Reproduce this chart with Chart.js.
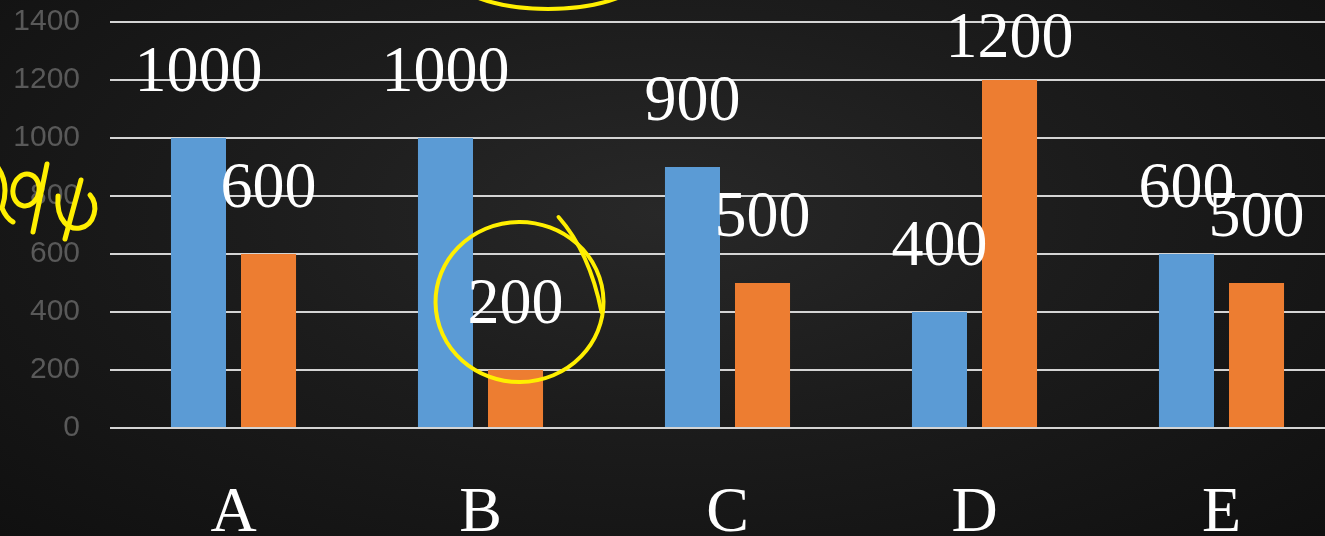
<!DOCTYPE html>
<html lang="fr">
<head>
<meta charset="utf-8">
<title>Histogramme A-E</title>
<script src="https://cdn.jsdelivr.net/npm/chart.js@4.4.1/dist/chart.umd.min.js"></script>
<style>
    html, body {
        margin: 0;
        padding: 0;
        width: 1325px;
        height: 536px;
        overflow: hidden;
        background: radial-gradient(ellipse at 50% 40%, #282828 0%, #1c1c1c 45%, #101010 100%);
    }
    #chart-wrapper {
        position: absolute;
        left: 0;
        top: 0;
    }
</style>
</head>
<body>
<div id="chart-wrapper">
    <canvas id="bar-chart" width="1345" height="536"></canvas>
</div>
<script>
// Données du graphique
const categories = ['A', 'B', 'C', 'D', 'E'];
const serieBleue = [1000, 1000, 900, 400, 600];
const serieOrange = [600, 200, 500, 1200, 500];
const yMax = 1400;
const yStep = 200;

// Couleurs façon Office
const COULEUR_BLEUE = '#5B9BD5';
const COULEUR_ORANGE = '#ED7D31';
const COULEUR_FEUTRE = '#FFEF00';
const COULEUR_GRILLE = '#d4d4d4';

/**
 * Affiche la valeur au-dessus de chaque barre (police serif, blanche)
 */
const valueLabelsPlugin = {
    id: 'valueLabels',
    afterDatasetsDraw(chart) {
        const ctx = chart.ctx;
        ctx.save();
        ctx.fillStyle = '#ffffff';
        ctx.font = '66px "Liberation Serif", "Times New Roman", serif';
        ctx.textAlign = 'center';
        ctx.textBaseline = 'alphabetic';

        chart.data.datasets.forEach((dataset, i) => {
            const meta = chart.getDatasetMeta(i);
            meta.data.forEach((bar, j) => {
                // Le libellé reste dans le cadre en haut (cas du 1200)
                const baseline = Math.max(bar.y - 47, 57);
                ctx.save();
                ctx.translate(bar.x, baseline);
                ctx.scale(0.97, 1);
                ctx.fillText(String(dataset.data[j]), 0, 0);
                ctx.restore();
            });
        });
        ctx.restore();
    }
};

/**
 * Annotations au feutre jaune (cercle autour du 200, arc en haut, "2φφ" à gauche)
 */
const feutrePlugin = {
    id: 'feutre',
    afterDraw(chart) {
        const ctx = chart.ctx;
        ctx.save();
        ctx.strokeStyle = COULEUR_FEUTRE;
        ctx.lineWidth = 4;
        ctx.lineCap = 'round';
        ctx.lineJoin = 'round';

        // Cercle autour de l'étiquette de B (série orange)
        const barB = chart.getDatasetMeta(1).data[1];
        const cx = barB.x + 4;
        const cy = Math.max(barB.y - 68, 35);
        ctx.beginPath();
        ctx.ellipse(cx, cy, 84, 80, 0, -1.2, -1.2 + Math.PI * 2 + 0.15);
        ctx.stroke();
        // petite queue du trait en haut à droite
        ctx.beginPath();
        ctx.moveTo(cx + 39, cy - 85);
        ctx.quadraticCurveTo(cx + 70, cy - 50, cx + 82, cy + 10);
        ctx.stroke();

        // Arc en haut, coupé par le bord
        ctx.beginPath();
        ctx.ellipse(548, -40, 110, 49, 0, 0, Math.PI);
        ctx.stroke();

        // "2φφ" écrit à la main à gauche
        ctx.lineWidth = 5;
        ctx.beginPath();
        ctx.moveTo(-3, 166);
        ctx.quadraticCurveTo(10, 184, 2, 208);
        ctx.quadraticCurveTo(6, 218, 13, 222);
        ctx.stroke();

        ctx.beginPath();
        ctx.ellipse(26, 190, 13, 16, 0.2, 0, Math.PI * 2);
        ctx.stroke();
        ctx.beginPath();
        ctx.moveTo(47, 164);
        ctx.lineTo(33, 232);
        ctx.stroke();

        ctx.beginPath();
        ctx.moveTo(58, 196);
        ctx.bezierCurveTo(56, 222, 70, 230, 80, 228);
        ctx.bezierCurveTo(95, 225, 99, 205, 90, 195);
        ctx.stroke();
        ctx.beginPath();
        ctx.moveTo(81, 180);
        ctx.lineTo(65, 239);
        ctx.stroke();

        ctx.restore();
    }
};

function renderBarChart() {
    const canvas = document.getElementById('bar-chart');
    if (!canvas || !window.Chart) return;

    new Chart(canvas.getContext('2d'), {
        type: 'bar',
        data: {
            labels: categories,
            datasets: [
                {
                    data: serieBleue,
                    backgroundColor: COULEUR_BLEUE,
                    categoryPercentage: 0.567,
                    barPercentage: 0.786
                },
                {
                    data: serieOrange,
                    backgroundColor: COULEUR_ORANGE,
                    categoryPercentage: 0.567,
                    barPercentage: 0.786
                }
            ]
        },
        options: {
            responsive: false,
            animation: false,
            devicePixelRatio: 1,
            layout: {
                padding: { top: 22, left: 0, right: 0, bottom: 0 }
            },
            plugins: {
                legend: { display: false },
                tooltip: { enabled: false }
            },
            scales: {
                x: {
                    grid: { display: false },
                    border: { display: false },
                    ticks: {
                        color: '#ffffff',
                        padding: 40,
                        font: { family: '"Liberation Serif", "Times New Roman", serif', size: 64 }
                    },
                    afterFit(scale) {
                        scale.height = 108;
                        scale.paddingTop = 0;
                    }
                },
                y: {
                    min: 0,
                    max: yMax,
                    grid: {
                        color: COULEUR_GRILLE,
                        lineWidth: 2,
                        drawTicks: false
                    },
                    border: { display: false },
                    ticks: {
                        stepSize: yStep,
                        color: '#595959',
                        padding: 30,
                        font: { family: '"Liberation Sans", Arial, sans-serif', size: 30 },
                        callback: (value) => String(value)
                    },
                    afterFit(scale) {
                        scale.width = 110;
                        scale.paddingTop = 0;
                        scale.paddingBottom = 0;
                    }
                }
            }
        },
        plugins: [valueLabelsPlugin, feutrePlugin]
    });
}

renderBarChart();
</script>
</body>
</html>
